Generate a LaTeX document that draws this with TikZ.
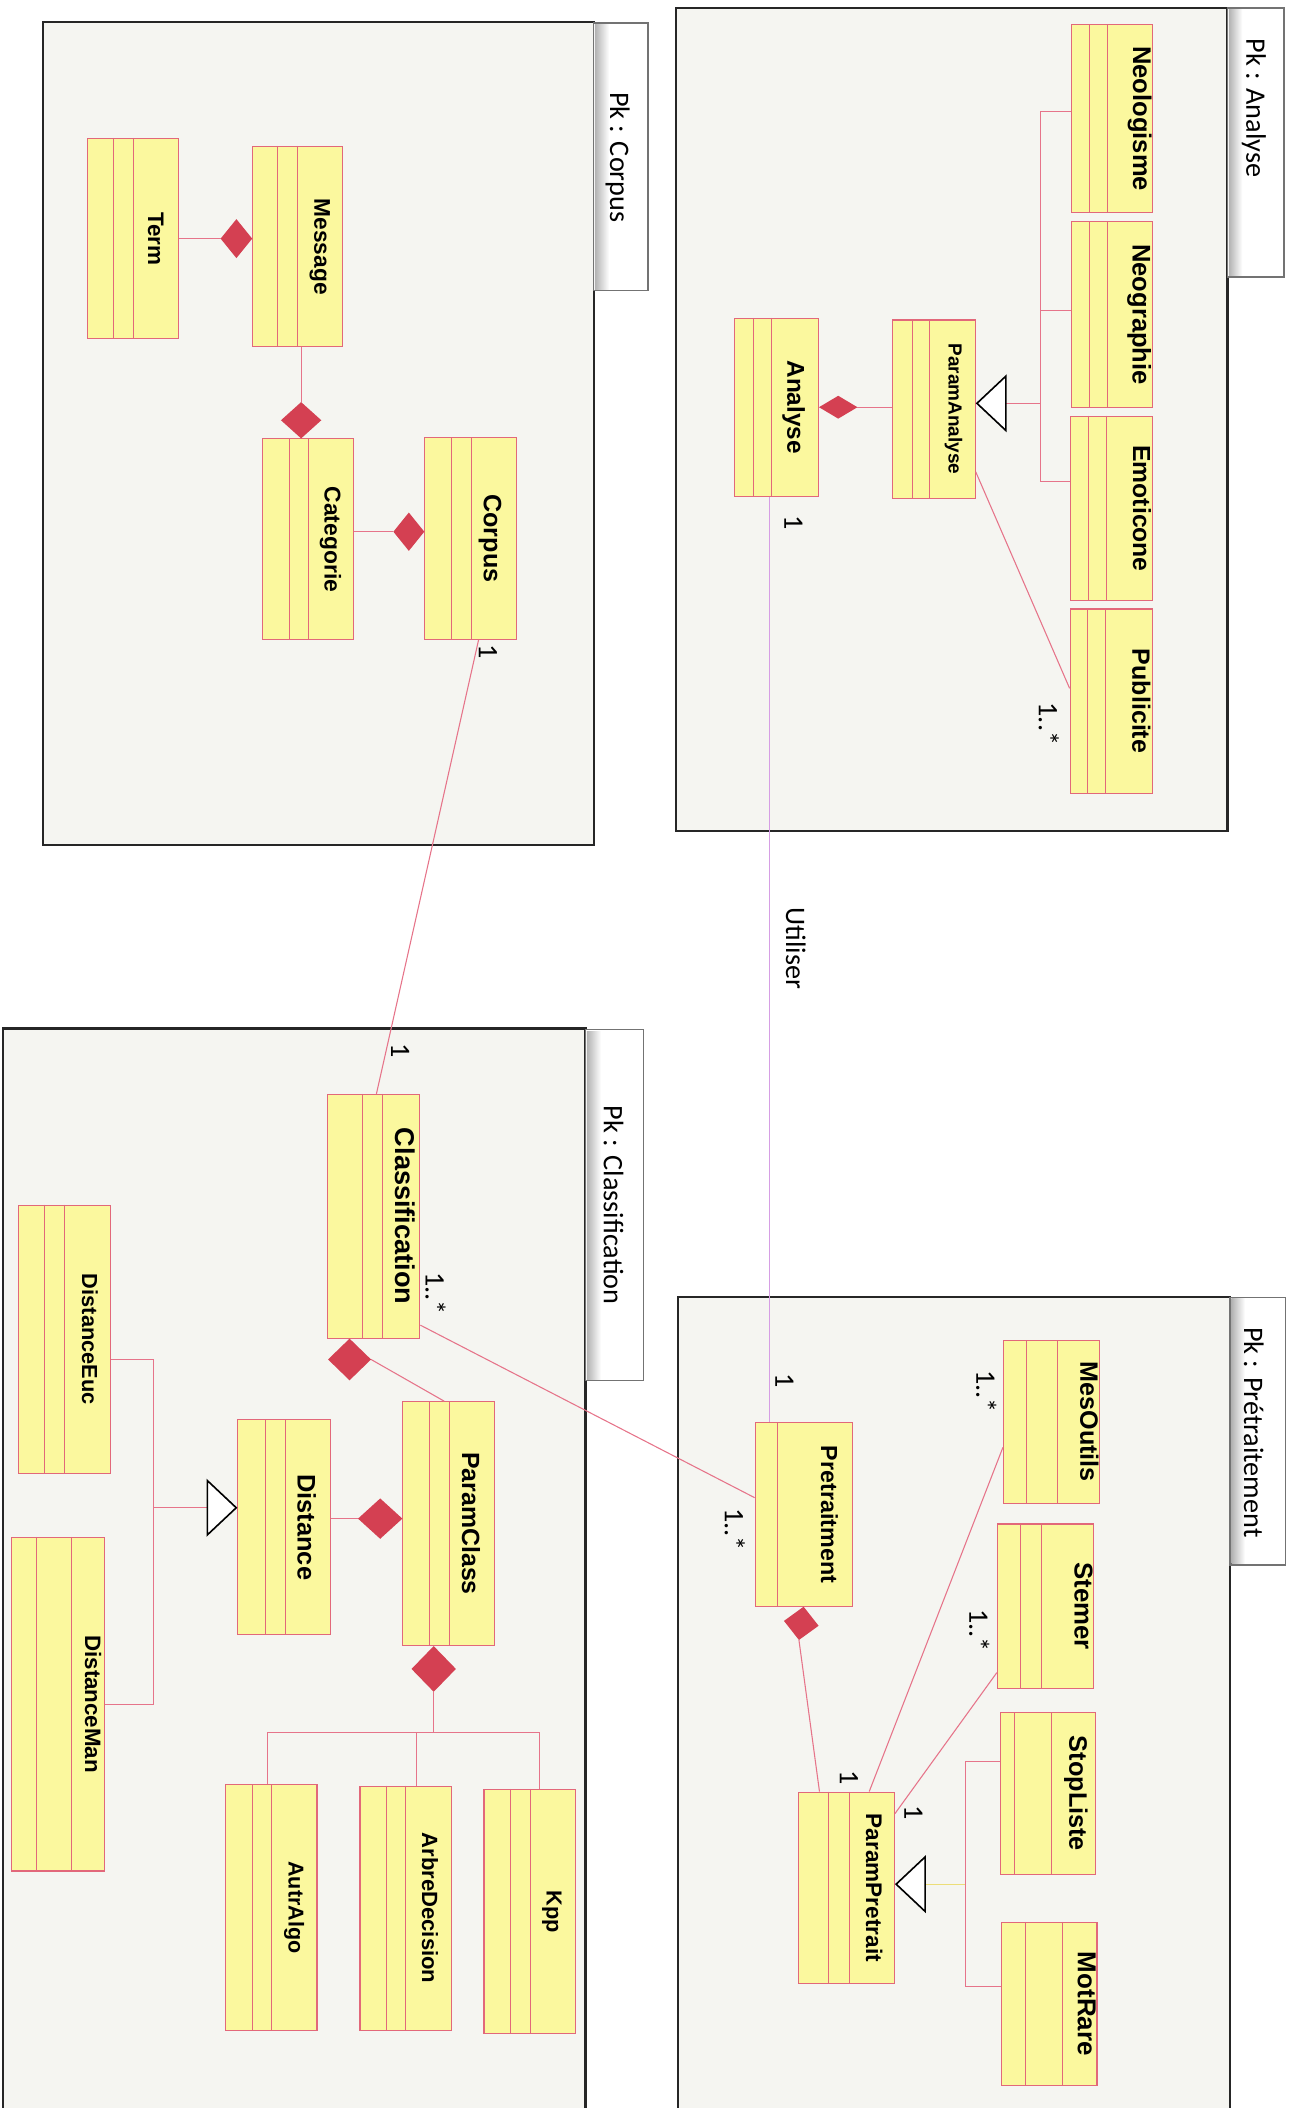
\documentclass[tikz,border=0pt]{standalone}
\usepackage{fontspec}
\setmainfont{Carlito}
\newfontfamily\namefont{Liberation Sans}
\usepackage{xcolor}
\definecolor{clsfill}{RGB}{251,248,158}
\definecolor{clsline}{RGB}{226,104,122}
\definecolor{compred}{RGB}{212,64,82}
\definecolor{linkpink}{RGB}{230,116,138}
\definecolor{uselav}{RGB}{214,158,228}
\definecolor{genyellow}{RGB}{236,222,120}
\definecolor{pkgfill}{RGB}{245,245,241}
\newcommand{\clsfont}[1]{\namefont\bfseries\fontsize{#1pt}{#1pt}\selectfont}
\newcommand{\lblfont}{\fontsize{21pt}{24pt}\selectfont}
\usepackage{tikz}
\usetikzlibrary{shapes.geometric, arrows.meta, backgrounds}

\begin{document}
\begin{tikzpicture}[x=1pt, y=-1pt,
	cls/.style={rectangle, rotate=-90, draw=clsline, fill=clsfill, line width=0.8pt,
	            inner sep=0pt, font=\clsfont{19}},
	part/.style={draw=clsline, line width=0.8pt},
	compo/.style={diamond, fill=compred, draw=none, inner sep=0pt, outer sep=0pt},
	assoc/.style={draw=linkpink, line width=0.8pt},
	uses/.style={draw=uselav, line width=1pt},
	gen/.style={assoc, -{Triangle[length=23pt, width=43pt, color=black, fill=white, line width=1.2pt]}},
	genY/.style={gen, draw=genyellow},
	pkg/.style={draw=black!85, line width=1.6pt, fill=pkgfill},
	tab/.style={draw=black!55, line width=1pt, fill=white},
	pkglbl/.style={rotate=-90, font=\lblfont, inner sep=0pt},
	mult/.style={rotate=-90, font=\lblfont, inner sep=0pt}
	]
	\useasboundingbox (0,0) rectangle (962,1568);

	\node[cls, font=\clsfont{16.7}, minimum width=149pt, text height=22.9pt, text depth=45.1pt] (term) at (99,177.5) {Term};
	\node[cls, font=\clsfont{16.9}, minimum width=149pt, text height=21.2pt, text depth=45.8pt] (message) at (221.5,183.5) {Message};
	\node[cls, font=\clsfont{17}, minimum width=149.5pt, text height=21.5pt, text depth=46pt] (categorie) at (229.25,401.25) {Categorie};
	\node[cls, font=\clsfont{18.7}, minimum width=150pt, text height=24.1pt, text depth=43.9pt] (corpus) at (350,400.5) {Corpus};

	\node[cls, minimum width=139.6pt, text height=14.6pt, text depth=45.9pt] (neologisme) at (827.25,88.2) {Neologisme};
	\node[cls, minimum width=138pt, text height=14.6pt, text depth=45.4pt] (neographie) at (827,234) {Neographie};
	\node[cls, font=\clsfont{18.4}, minimum width=137.5pt, text height=14.2pt, text depth=46.8pt] (emoticone) at (826.5,378.25) {Emoticone};
	\node[cls, font=\clsfont{18.6}, minimum width=137pt, text height=14.8pt, text depth=46.2pt] (publicite) at (826.5,521.5) {Publicite};
	\node[cls, font=\clsfont{14.1}, minimum width=132.6pt, text height=19.7pt, text depth=41.9pt] (paramanalyse) at (694.6,304.3) {ParamAnalyse};
	\node[cls, font=\clsfont{18.1}, minimum width=132.2pt, text height=23.2pt, text depth=39.6pt] (analyse) at (577.4,302.9) {Analyse};

	\node[cls, font=\clsfont{20.2}, minimum width=181.3pt, text height=18.3pt, text depth=50.3pt] (classification) at (278,904.65) {Classification};
	\node[cls, font=\clsfont{18.5}, minimum width=181.4pt, text height=24.2pt, text depth=44.1pt] (paramclass) at (333.85,1133.3) {ParamClass};
	\node[cls, font=\clsfont{18.9}, minimum width=160pt, text height=24.1pt, text depth=44.4pt] (distance) at (211.25,1136) {Distance};
	\node[cls, font=\clsfont{16.2}, minimum width=199.5pt, text height=21.3pt, text depth=47.6pt] (distanceeuc) at (47.95,996.25) {DistanceEuc};
	\node[cls, font=\clsfont{16.6}, minimum width=248.2pt, text height=14.4pt, text depth=54.5pt] (distanceman) at (43.25,1267.6) {DistanceMan};
	\node[cls, font=\clsfont{16}, minimum width=182.5pt, text height=21.2pt, text depth=46.6pt] (autralgo) at (201.9,1418.75) {AutrAlgo};
	\node[cls, font=\clsfont{16.4}, minimum width=181.4pt, text height=21.7pt, text depth=46.2pt] (arbredecision) at (301.75,1419.3) {ArbreDecision};
	\node[cls, font=\clsfont{16.2}, minimum width=181.6pt, text height=21.5pt, text depth=46.5pt] (kpp) at (394,1421.8) {Kpp};

	\node[cls, font=\clsfont{18.7}, minimum width=120.8pt, text height=14pt, text depth=57.2pt] (mesoutils) at (782,1057.6) {MesOutils};
	\node[cls, font=\clsfont{19.2}, minimum width=122.1pt, text height=14pt, text depth=57.5pt] (stemer) at (777.65,1194.65) {Stemer};
	\node[cls, font=\clsfont{18.8}, minimum width=120pt, text height=19.5pt, text depth=51.4pt] (stopliste) at (779.45,1334) {StopListe};
	\node[cls, font=\clsfont{19.3}, minimum width=121pt, text height=14.3pt, text depth=56.8pt] (motrare) at (780.45,1490.5) {MotRare};
	\node[cls, font=\clsfont{17.3}, minimum width=136.4pt, text height=23pt, text depth=49.1pt] (pretraitment) at (597.75,1126.5) {Pretraitment};
	\node[cls, font=\clsfont{16.8}, minimum width=142.6pt, text height=21pt, text depth=50.5pt] (parampretrait) at (629.55,1404.3) {ParamPretrait};

	\foreach \c/\a/\b in {term/20/35, message/19/34, categorie/20/34.5, corpus/20/35,
	    neologisme/14/27.5, neographie/14/27.5, emoticone/14/27.5, publicite/13.5/27,
	    paramanalyse/15/28, analyse/15/28, classification/26/41, paramclass/20/35,
	    distance/21/36, distanceeuc/20/35, distanceman/19/45, autralgo/20/34.6,
	    arbredecision/20/34, kpp/20/35, mesoutils/17.4/40.6, stemer/17.4/33.1,
	    stopliste/10.8/38.5, motrare/18/45.7, pretraitment/17.3/17.3, parampretrait/22.8/38.5}
	  \draw[part] ([xshift=\a pt]\c.south west) -- ([xshift=\a pt]\c.south east)
	              ([xshift=\b pt]\c.south west) -- ([xshift=\b pt]\c.south east);

	\node[compo, minimum width=23.5pt, minimum height=29pt, anchor=east] (dTM) at (message.south |- term.north) {};
	\node[compo, minimum width=30pt, minimum height=27pt, anchor=south] (dMC) at ([xshift=-5.25pt]categorie.west) {};
	\node[compo, minimum width=23pt, minimum height=28.5pt, anchor=east] (dCC) at ([yshift=5pt]corpus.south) {};
	\node[compo, minimum width=28.6pt, minimum height=17pt, anchor=west] (dAP) at (analyse.north) {};
	\node[compo, minimum width=32pt, minimum height=31pt, anchor=north] (dCP) at ([xshift=-18pt]classification.east) {};
	\node[compo, minimum width=33pt, minimum height=30pt, anchor=east] (dPD) at ([yshift=3.7pt]paramclass.south) {};
	\node[compo, minimum width=33pt, minimum height=34pt, anchor=north] (dPA) at ([xshift=-11.25pt]paramclass.east) {};
	\node[compo, minimum width=26pt, minimum height=25pt, rotate=-8, anchor=north] (dPP) at (pretraitment.east) {};

	\coordinate (busA) at (774,300);
	\coordinate (busC) at ([yshift=-30pt]dPA.south);
	\coordinate (busD) at (114.3,1121.5);
	\coordinate (busP) at (718,1401.5);

	\draw[assoc] (term.north) -- (dTM.west);
	\draw[assoc] (dMC.north) -- (dMC.north |- message.east);
	\draw[assoc] (dCC.west) -- (dCC.west -| categorie.north);
	\draw[assoc] ([xshift=6pt]corpus.east) -- ([xshift=2pt]classification.west);

	\draw[assoc] (dAP.east) -- (dAP.east -| paramanalyse.south);
	\draw[gen] (busA) -- (busA -| paramanalyse.north);
	\draw[assoc] ([yshift=5pt]neologisme.south) -| (busA) |- ([yshift=20pt]emoticone.south);
	\draw[assoc] ([yshift=3pt]neographie.south) -| (busA);
	\draw[assoc] ([yshift=20pt]paramanalyse.north east) -- ([yshift=9.5pt]publicite.south);
	\draw[uses] ([xshift=-5pt]analyse.east) -- ([xshift=-5pt]analyse.east |- pretraitment.west)
		node[pos=0.488, rotate=-90, anchor=south, inner sep=11.6pt, font=\lblfont] (utiliser) {Utiliser};

	\draw[assoc] (dCP.east) -- ([xshift=-3.5pt]paramclass.west);
	\draw[assoc] ([yshift=10pt]classification.north east) -- ([yshift=12.5pt]pretraitment.south);
	\draw[assoc] (dPD.west) -- (dPD.west -| distance.north);
	\draw[assoc] (dPA.south) -- (busC);
	\draw[assoc] ([xshift=-3pt]autralgo.west) |- (busC) -| ([xshift=7pt]kpp.west);
	\draw[assoc] ([xshift=8.25pt]arbredecision.west) |- (busC);
	\draw[gen] (busD) -- (busD -| distance.south);
	\draw[assoc] ([yshift=-15pt]distanceeuc.north) -| (busD) |- (distanceman.north);

	\draw[assoc] (dPP.south) -- ([xshift=-20pt]parampretrait.west);
	\draw[assoc] ([yshift=-19pt]mesoutils.south) -- ([xshift=17pt]parampretrait.west);
	\draw[assoc] ([yshift=12pt]stemer.south east) -- ([yshift=-16.4pt]parampretrait.north west);
	\draw[genY] (busP) -- (busP -| parampretrait.north);
	\draw[assoc] ([yshift=24pt]stopliste.south) -| (busP) |- ([yshift=13pt]motrare.south);

	\node[mult] (mCorpus) at (363,485) {1};
	\node[mult] (mClassA) at (297.6,781.7) {1};
	\node[mult] (mClassB) at (324,962) {1..*};
	\node[mult] (mPreA) at (546.6,1137.8) {1..*};
	\node[mult] (mAnalyse) at (590.2,388.6) {1};
	\node[mult] (mPub) at (780.2,538.5) {1..*};
	\node[mult] (mPreB) at (583.5,1026.8) {1};
	\node[mult] (mOutils) at (733.6,1035) {1..*};
	\node[mult] (mStemer) at (728.4,1213) {1..*};
	\node[mult] (mParamA) at (631.5,1322) {1};
	\node[mult] (mParamB) at (679.5,1348.4) {1};

	\begin{scope}[on background layer]
	\draw[pkg] (32.3,16.3) rectangle (441.6,628.5);
	\draw[pkg] (503,6) rectangle (913,618);
	\draw[pkg] (2.5,765) rectangle (435.5,1590);
	\draw[pkg] (504,965) rectangle (915,1590);
	\draw[tab] (441.6,17) rectangle (482,216);
	\draw[tab] (913,6) rectangle (955,206);
	\draw[tab] (435.5,766) rectangle (478.5,1027);
	\draw[tab] (915,965) rectangle (956,1164);
	\fill[left color=black!30, right color=white] (442.5,18) rectangle (453,215);
	\fill[left color=black!30, right color=white] (914,7) rectangle (924,205);
	\fill[left color=black!30, right color=white] (436.5,767) rectangle (447,1026);
	\fill[left color=black!30, right color=white] (916,966) rectangle (926,1163);
	\node[pkglbl] (pkCorpus) at (459.5,117) {Pk : Corpus};
	\node[pkglbl] (pkAnalyse) at (932.6,80.3) {Pk : Analyse};
	\node[pkglbl] (pkClass) at (456.3,896.4) {Pk : Classification};
	\node[pkglbl] (pkPre) at (932.6,1065.4) {Pk : Prétraitement};
	\end{scope}
\end{tikzpicture}
\end{document}
